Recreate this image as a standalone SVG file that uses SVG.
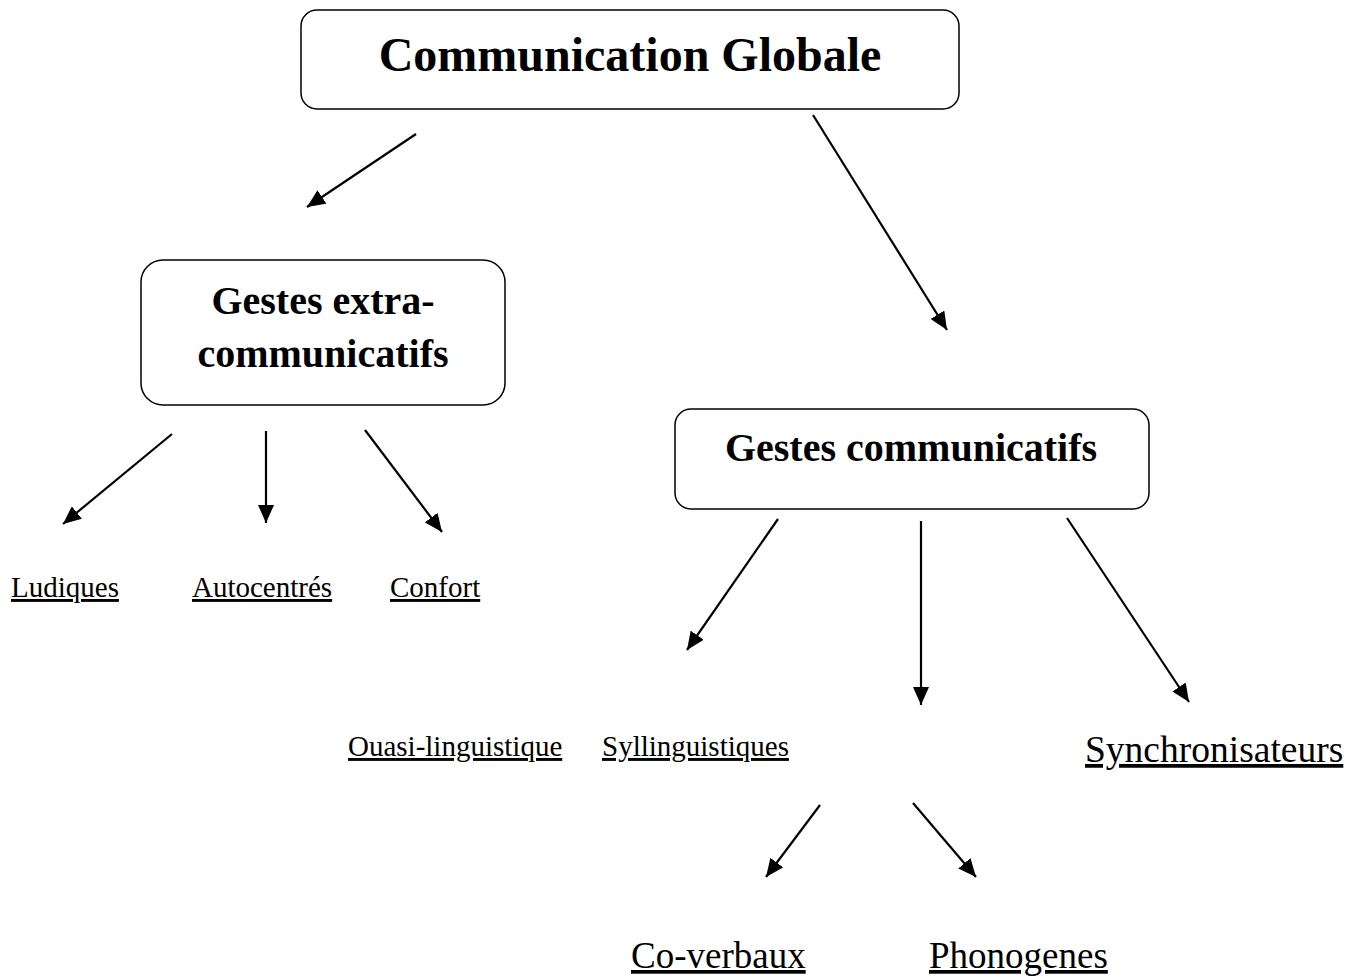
<svg xmlns="http://www.w3.org/2000/svg" width="1350" height="978" viewBox="0 0 1350 978">
<style>
.box{fill:#fff;stroke:#000;stroke-width:1.5}
.t{font-family:"Liberation Serif","Times New Roman",serif;fill:#000}
.b{font-weight:bold;text-anchor:middle}
.u{text-decoration:underline}
.c{stroke:#000;stroke-width:2.2;fill:none;marker-end:url(#ah)}
</style>
<defs>
<marker id="ah" markerUnits="userSpaceOnUse" markerWidth="20" markerHeight="16" refX="18" refY="8" orient="auto">
<path d="M0,0 L18,8 L0,16 Z" fill="#000"/>
</marker>
</defs>
<rect width="1350" height="978" fill="#fff"/>
<g id="n-global">
<rect class="box" x="301" y="10" width="658" height="99" rx="16"/>
<text class="t b" x="630" y="71" font-size="48">Communication Globale</text>
</g>
<g id="n-extra">
<rect class="box" x="141" y="260" width="364" height="145" rx="22"/>
<text class="t b" x="323" y="314" font-size="40">Gestes extra-</text>
<text class="t b" x="323" y="367" font-size="40">communicatifs</text>
</g>
<g id="n-comm">
<rect class="box" x="675" y="409" width="474" height="100" rx="16"/>
<text class="t b" x="911" y="461" font-size="40">Gestes communicatifs</text>
</g>
<g id="n-ludiques"><text class="t u" x="11" y="597" font-size="29">Ludiques</text></g>
<g id="n-autocentres"><text class="t u" x="192" y="597" font-size="29">Autocentrés</text></g>
<g id="n-confort"><text class="t u" x="390" y="597" font-size="29">Confort</text></g>
<g id="n-ouasi"><text class="t u" x="348" y="756" font-size="29">Ouasi-linguistique</text></g>
<g id="n-syll"><text class="t u" x="602" y="756" font-size="29">Syllinguistiques</text></g>
<g id="n-synchro"><text class="t u" x="1085" y="762" font-size="37.5">Synchronisateurs</text></g>
<g id="n-coverbaux"><text class="t u" x="631" y="968" font-size="37">Co-verbaux</text></g>
<g id="n-phonogenes"><text class="t u" x="929" y="968" font-size="37">Phonogenes</text></g>
<g id="connectors">
<line class="c" x1="416" y1="134" x2="307" y2="207"/>
<line class="c" x1="813" y1="115" x2="947" y2="330"/>
<line class="c" x1="172" y1="434" x2="63" y2="524"/>
<line class="c" x1="266" y1="431" x2="266" y2="523"/>
<line class="c" x1="365" y1="430" x2="442" y2="532"/>
<line class="c" x1="778" y1="519" x2="687" y2="650"/>
<line class="c" x1="921" y1="521" x2="921" y2="705"/>
<line class="c" x1="1067" y1="518" x2="1189" y2="702"/>
<line class="c" x1="820" y1="805" x2="766" y2="877"/>
<line class="c" x1="913" y1="803" x2="976" y2="877"/>
</g>
</svg>
